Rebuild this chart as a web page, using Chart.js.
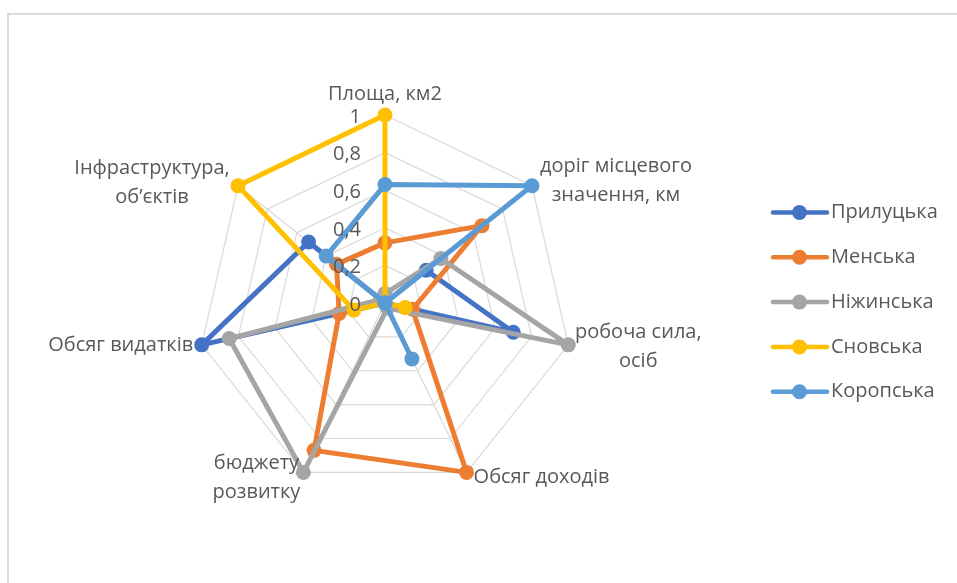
<!DOCTYPE html>
<html><head><meta charset="utf-8">
<script src="https://cdn.jsdelivr.net/npm/chart.js@4/dist/chart.umd.min.js"></script>
<style>html,body{margin:0;padding:0;background:#fff;}#wrap{width:957px;height:583px;position:relative}</style>
</head><body><div id="wrap"><canvas id="c" width="957" height="583"></canvas></div>
<script>
const categories = ['Площа, км2', ['доріг місцевого', 'значення, км'], ['робоча сила,', 'осіб'], 'Обсяг доходів', ['бюджету', 'розвитку'], 'Обсяг видатків', ['Інфраструктура,', 'об’єктів']];
const seriesNames = ['Прилуцька', 'Менська', 'Ніжинська', 'Сновська', 'Коропська'];
const seriesColors = ['#4472C4', '#ED7D31', '#A5A5A5', '#FFC000', '#5B9BD5'];
const prylutska = [0, 0.28, 0.70, 0, 0, 1, 0.52];
const menska = [0.32, 0.66, 0.15, 1, 0.87, 0.25, 0.33];
const nizhynska = [0.05, 0.38, 1, 0.03, 1, 0.85, 0.03];
const snovska = [1, 0, 0.11, 0, 0, 0.17, 1];
const koropska = [0.63, 1, 0, 0.33, 0, 0, 0.40];
const tickValues = [0, 0.2, 0.4, 0.6, 0.8, 1];
const tickLabels = ['0', '0,2', '0,4', '0,6', '0,8', '1'];

const seriesValues = [prylutska, menska, nizhynska, snovska, koropska];
const FONT = '20px "Open Sans", sans-serif';
const TEXT = '#595959';

// per-label offsets from outer vertex (styling only)
const labelOffsets = [[0, -21], [84, -5], [70, 2], [75, 5], [-47, 5], [-81, 0], [-86, -3]];

const framePlugin = {
  id: 'frame',
  beforeDraw(chart) {
    const c = chart.ctx;
    c.save();
    c.strokeStyle = '#d9d9d9';
    c.lineWidth = 2;
    c.beginPath();
    c.moveTo(8, 583); c.lineTo(8, 14); c.lineTo(957, 14);
    c.stroke();
    c.restore();
  }
};

const labelsPlugin = {
  id: 'labelsPlugin',
  afterDatasetsDraw(chart) {
    const c = chart.ctx;
    const s = chart.scales.r;
    c.save();
    c.font = FONT;
    c.fillStyle = TEXT;
    // tick labels
    c.textAlign = 'right';
    c.textBaseline = 'middle';
    tickValues.forEach((v, i) => {
      const d = s.getDistanceFromCenterForValue(v);
      c.fillText(tickLabels[i], s.xCenter - 24, s.yCenter - d + 2);
    });
    // axis point labels
    c.textAlign = 'center';
    categories.forEach((lab, i) => {
      const p = s.getPointPosition(i, s.drawingArea);
      const lines = Array.isArray(lab) ? lab : [lab];
      const lh = 29;
      const x = p.x + labelOffsets[i][0];
      const y0 = p.y + labelOffsets[i][1] - (lines.length - 1) * lh / 2;
      lines.forEach((t, k) => c.fillText(t, x, y0 + k * lh));
    });
    // legend
    c.textAlign = 'left';
    seriesNames.forEach((n, i) => {
      const y = 212.5 + i * 44.8;
      c.strokeStyle = seriesColors[i];
      c.lineWidth = 4.5;
      c.lineCap = 'round';
      c.beginPath(); c.moveTo(773, y); c.lineTo(827, y); c.stroke();
      c.fillStyle = seriesColors[i];
      c.beginPath(); c.arc(799.5, y, 7.5, 0, Math.PI * 2); c.fill();
      c.fillStyle = TEXT;
      c.fillText(n, 831, y);
    });
    c.restore();
  }
};

new Chart(document.getElementById('c'), {
  type: 'radar',
  data: {
    labels: categories,
    datasets: seriesNames.map((n, i) => ({
      label: n,
      data: seriesValues[i],
      borderColor: seriesColors[i],
      backgroundColor: seriesColors[i],
      pointBackgroundColor: seriesColors[i],
      pointBorderColor: seriesColors[i],
      fill: false,
      order: seriesNames.length - i
    }))
  },
  options: {
    responsive: false,
    animation: false,
    layout: { padding: { left: 197, top: 115, right: 384, bottom: 92 } },
    plugins: { legend: { display: false }, tooltip: { enabled: false } },
    scales: {
      r: {
        min: 0, max: 1,
        ticks: { display: false, stepSize: 0.2 },
        pointLabels: { display: false },
        grid: { color: '#d9d9d9', lineWidth: 1.2 },
        angleLines: { color: '#d9d9d9', lineWidth: 1.2 }
      }
    },
    elements: {
      line: { borderWidth: 5, tension: 0, borderJoinStyle: 'round' },
      point: { radius: 7.5, borderWidth: 0, hoverRadius: 7.5 }
    }
  },
  plugins: [framePlugin, labelsPlugin]
});
</script>
</body></html>
